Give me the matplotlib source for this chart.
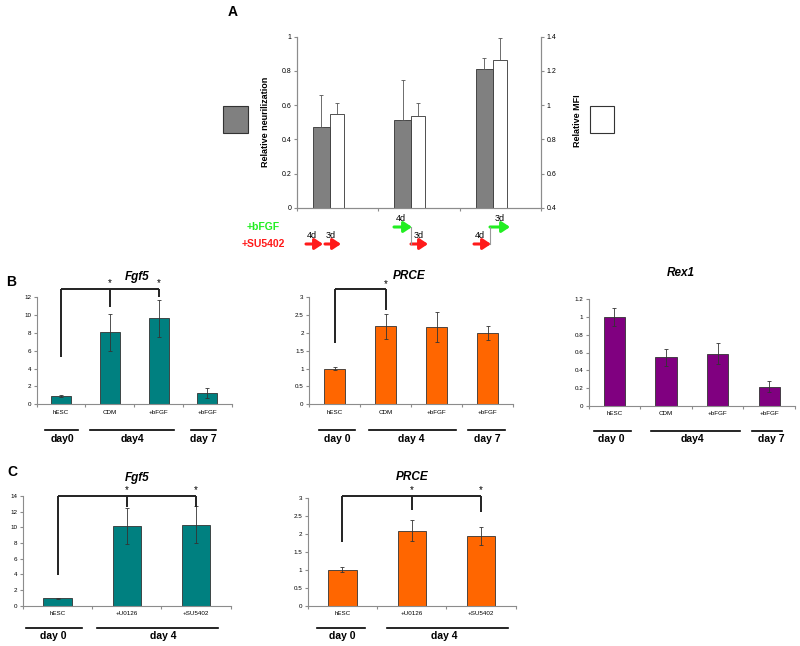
import numpy as np
import matplotlib
matplotlib.use("Agg")
import matplotlib.pyplot as plt
from matplotlib.lines import Line2D
from matplotlib.patches import Rectangle, FancyArrowPatch
from matplotlib.ticker import FormatStrFormatter

plt.rcParams['font.family'] = ['Liberation Sans', 'DejaVu Sans']

# ---- data ----
# panel A: relative neurilization (left axis) and relative MFI (right axis)
a_neur = [0.47, 0.51, 0.81]
a_neur_err = [0.19, 0.235, 0.066]
a_mfi = [0.95, 0.935, 1.265]
a_mfi_err = [0.06, 0.075, 0.125]

# panel B
b_cats = ["hESC", "CDM", "+bFGF", "+bFGF"]
b_fgf5 = [0.97, 8.07, 9.64, 1.31]
b_fgf5_err = [0.12, 2.05, 2.08, 0.55]
b_prce = [1.0, 2.19, 2.17, 1.99]
b_prce_err = [0.05, 0.35, 0.41, 0.2]
b_rex1 = [1.0, 0.545, 0.587, 0.214]
b_rex1_err = [0.1, 0.1, 0.12, 0.06]

# panel C
c_cats = ["hESC", "+U0126", "+SU5402"]
c_fgf5 = [0.94, 10.2, 10.35]
c_fgf5_err = [0.1, 2.3, 2.38]
c_prce = [1.0, 2.1, 1.94]
c_prce_err = [0.07, 0.3, 0.25]

# significance brackets: top of bracket, lower ends of the legs per category
b_fgf5_sig = (12.93, [5.27, 10.88, 12.07])
b_prce_sig = (3.22, [1.73, 2.64])
c_fgf5_sig = (14.0, [3.9, 12.64, 12.6])
c_prce_sig = (3.07, [1.77, 2.67, 2.63])

TEAL = '#008080'
ORANGE = '#FF6600'
PURPLE = '#800080'
GRAY = '#808080'
EDGE = '#333333'
AXC = '#8c8c8c'

W, H = 800, 646
fig = plt.figure(figsize=(W / 100, H / 100), dpi=100)


def px_axes(x0, y0, x1, y1):
    return fig.add_axes([x0 / W, 1 - y1 / H, (x1 - x0) / W, (y1 - y0) / H])


def ftext(x, y, s, **kw):
    kw.setdefault('ha', 'center')
    kw.setdefault('va', 'center')
    fig.text(x / W, 1 - y / H, s, **kw)


def fline(x0, x1, y0, y1, **kw):
    fig.add_artist(Line2D([x0 / W, x1 / W], [1 - y0 / H, 1 - y1 / H], **kw))


def farrow(x0, x1, y, color):
    fig.add_artist(FancyArrowPatch((x0 / W, 1 - y / H), (x1 / W, 1 - y / H),
                                   transform=fig.transFigure,
                                   arrowstyle='-|>,head_length=0.6,head_width=0.4',
                                   mutation_scale=8, color=color, lw=2.2,
                                   shrinkA=0, shrinkB=0))


def expr_panel(rect, cats, vals, errs, color, ymax, ystep):
    ax = px_axes(*rect)
    x = np.arange(len(cats))
    ax.bar(x, vals, width=0.41, color=color, edgecolor=EDGE, linewidth=0.6,
           yerr=errs, error_kw=dict(ecolor=EDGE, elinewidth=0.6, capsize=1.5, capthick=0.6))
    ax.set_xlim(-0.5, len(cats) - 0.5)
    ax.set_ylim(0, ymax)
    ax.set_yticks(np.arange(0, ymax + ystep / 2, ystep))
    ax.yaxis.set_major_formatter(FormatStrFormatter('%g'))
    ax.set_xticks(np.arange(-0.5, len(cats)))
    ax.set_xticklabels([])
    ax.set_xticks(x, minor=True)
    ax.set_xticklabels(cats, minor=True)
    ax.tick_params(axis='x', which='minor', length=0, labelsize=4.5, pad=4)
    ax.tick_params(axis='x', which='major', length=2, color=AXC)
    ax.tick_params(axis='y', length=2, labelsize=4.5, pad=2, color=AXC)
    for s in ['top', 'right']:
        ax.spines[s].set_visible(False)
    for s in ['left', 'bottom']:
        ax.spines[s].set_color(AXC)
        ax.spines[s].set_linewidth(0.8)
    return ax


def bracket(ax, sig):
    top, lows = sig
    n = len(lows)
    ax.plot([0, n - 1], [top, top], color='#222222', lw=1.4, clip_on=False, solid_capstyle='butt')
    for i, lo in enumerate(lows):
        ax.plot([i, i], [top, lo], color='#222222', lw=1.4, clip_on=False, solid_capstyle='butt')
        if i > 0:
            ax.annotate('*', (i, top), xytext=(0, 0.5), textcoords='offset points',
                        ha='center', va='bottom', fontsize=7, annotation_clip=False)


# ================= panel A =================
axA = px_axes(297, 36.7, 541, 207.7)
gx = np.arange(3)
axA.bar(gx + 0.30, a_neur, width=0.21, color=GRAY, edgecolor=EDGE, linewidth=0.6,
        yerr=[[0, 0, 0], a_neur_err],
        error_kw=dict(ecolor='#555555', elinewidth=0.6, capsize=1.5, capthick=0.6))
axA.set_xlim(0, 3)
axA.set_ylim(0, 1)
axA.set_yticks(np.arange(0, 1.01, 0.2))
axA.yaxis.set_major_formatter(FormatStrFormatter('%g'))
axA.set_xticks([0, 1, 2, 3])
axA.set_xticklabels([])
axA.tick_params(axis='both', length=2, labelsize=5, pad=2, color=AXC)

axA2 = axA.twinx()
axA2.bar(gx + 0.492, a_mfi, width=0.172, bottom=0, color='white', edgecolor=EDGE, linewidth=0.6,
         yerr=[[0, 0, 0], a_mfi_err],
         error_kw=dict(ecolor='#555555', elinewidth=0.6, capsize=1.5, capthick=0.6))
axA2.set_ylim(0.4, 1.4)
axA2.set_yticks(np.arange(0.4, 1.41, 0.2))
axA2.yaxis.set_major_formatter(FormatStrFormatter('%g'))
axA2.tick_params(axis='y', length=2, labelsize=5, pad=2, color=AXC)
for a in (axA, axA2):
    a.spines['top'].set_visible(False)
    for s in ['left', 'right', 'bottom']:
        a.spines[s].set_color(AXC)
        a.spines[s].set_linewidth(0.8)

ftext(233, 12, 'A', fontsize=10, fontweight='bold')
ftext(265, 122, 'Relative neurilization', rotation=90, fontsize=6.5, fontweight='bold')
ftext(577, 121, 'Relative MFI', rotation=90, fontsize=6.5, fontweight='bold')
fig.add_artist(Rectangle((223 / W, 1 - 133 / H), 25 / W, 27 / H, transform=fig.transFigure,
                         facecolor=GRAY, edgecolor=EDGE, lw=0.8))
fig.add_artist(Rectangle((590 / W, 1 - 133 / H), 24 / W, 27 / H, transform=fig.transFigure,
                         facecolor='white', edgecolor=EDGE, lw=0.8))

GREEN = '#22EE22'
RED = '#FF1A1A'
ftext(263, 227, '+bFGF', color=GREEN, fontsize=7.5, fontweight='bold')
ftext(263, 244, '+SU5402', color=RED, fontsize=7.5, fontweight='bold')
# group 1: SU5402 4d then 3d
farrow(306, 323, 244, RED)
farrow(325, 341, 244, RED)
ftext(312, 235, '4d', fontsize=6.5)
ftext(331, 235, '3d', fontsize=6.5)
# group 2: bFGF 4d then SU5402 3d
farrow(394, 412, 227, GREEN)
fline(411, 411, 227, 244, color='#999999', lw=0.8)
farrow(411, 428, 244, RED)
ftext(401, 219, '4d', fontsize=6.5)
ftext(419, 235, '3d', fontsize=6.5)
# group 3: SU5402 4d then bFGF 3d
farrow(474, 491, 244, RED)
fline(490, 490, 244, 227, color='#999999', lw=0.8)
farrow(490, 510, 227, GREEN)
ftext(480, 235, '4d', fontsize=6.5)
ftext(500, 219, '3d', fontsize=6.5)

# ================= panel B =================
axB1 = expr_panel((36.7, 297.3, 231.7, 404.3), b_cats, b_fgf5, b_fgf5_err, TEAL, 12, 2)
bracket(axB1, b_fgf5_sig)
axB2 = expr_panel((309.3, 297.3, 513.3, 404.3), b_cats, b_prce, b_prce_err, ORANGE, 3, 0.5)
bracket(axB2, b_prce_sig)
axB3 = expr_panel((588.7, 299.3, 795, 405.7), b_cats, b_rex1, b_rex1_err, PURPLE, 1.2, 0.2)

ftext(11, 282, 'B', fontsize=10, fontweight='bold')
ftext(137, 277, 'Fgf5', fontsize=8.5, fontweight='bold', style='italic')
ftext(409, 276, 'PRCE', fontsize=8.5, fontweight='bold', style='italic')
ftext(681, 273, 'Rex1', fontsize=8.5, fontweight='bold', style='italic')

day_kw = dict(fontsize=7.5, fontweight='bold')
line_kw = dict(color='black', lw=1.2)
# Fgf5 B
fline(45, 78, 430, 430, **line_kw)
fline(90, 174, 430, 430, **line_kw)
fline(191, 216, 430, 430, **line_kw)
ftext(62, 439.5, 'day0', **day_kw)
ftext(132, 439.5, 'day4', **day_kw)
ftext(203, 439.5, 'day 7', **day_kw)
# PRCE B
fline(319, 355, 430, 430, **line_kw)
fline(369, 456, 430, 430, **line_kw)
fline(468, 505, 430, 430, **line_kw)
ftext(337, 439.5, 'day 0', **day_kw)
ftext(411, 439.5, 'day 4', **day_kw)
ftext(487, 439.5, 'day 7', **day_kw)
# Rex1 B
fline(594, 631, 430.5, 430.5, **line_kw)
fline(651, 740, 430.5, 430.5, **line_kw)
fline(752, 782, 430.5, 430.5, **line_kw)
ftext(611, 439, 'day 0', **day_kw)
ftext(692, 439, 'day4', **day_kw)
ftext(771, 439, 'day 7', **day_kw)

# ================= panel C =================
axC1 = expr_panel((22.9, 496, 230.5, 605.7), c_cats, c_fgf5, c_fgf5_err, TEAL, 14, 2)
bracket(axC1, c_fgf5_sig)
axC2 = expr_panel((307.8, 498.3, 515.8, 605.7), c_cats, c_prce, c_prce_err, ORANGE, 3, 0.5)
bracket(axC2, c_prce_sig)

ftext(12, 472, 'C', fontsize=10, fontweight='bold')
ftext(137, 477.5, 'Fgf5', fontsize=8.5, fontweight='bold', style='italic')
ftext(412, 477, 'PRCE', fontsize=8.5, fontweight='bold', style='italic')

fline(26, 82, 628, 628, **line_kw)
fline(97, 218, 628, 628, **line_kw)
ftext(53, 636, 'day 0', **day_kw)
ftext(163, 636, 'day 4', **day_kw)
fline(317, 365, 628.3, 628.3, **line_kw)
fline(387, 508, 628.3, 628.3, **line_kw)
ftext(342, 636, 'day 0', **day_kw)
ftext(444, 636, 'day 4', **day_kw)

fig.savefig('out.png', dpi=100)
